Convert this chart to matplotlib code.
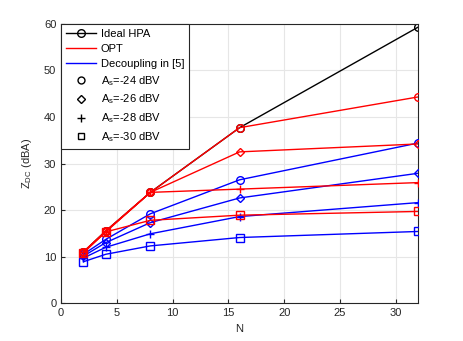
import matplotlib.pyplot as plt
from matplotlib.lines import Line2D
import numpy as np

N = [2, 4, 8, 16, 32]

ideal_hpa = [11.0, 15.5, 23.8, 37.7, 59.3]

# OPT (red), one series per A_s
opt_24 = [11.0, 15.5, 23.8, 37.7, 44.3]
opt_26 = [11.0, 15.4, 23.8, 32.5, 34.2]
opt_28 = [11.0, 15.3, 23.8, 24.5, 25.9]
opt_30 = [10.8, 15.3, 17.8, 18.9, 19.7]

# Decoupling in [5] (blue)
dec_24 = [10.5, 13.7, 19.2, 26.5, 34.4]
dec_26 = [10.1, 13.0, 17.3, 22.6, 27.9]
dec_28 = [9.7, 12.0, 14.9, 18.6, 21.6]
dec_30 = [8.9, 10.5, 12.3, 14.1, 15.4]

as_labels = ["-24", "-26", "-28", "-30"]
markers = ["o", "D", "+", "s"]

plt.rcParams['font.family'] = ['Liberation Sans', 'DejaVu Sans']
plt.rcParams['font.size'] = 8
plt.rcParams['mathtext.fontset'] = 'custom'
plt.rcParams['mathtext.rm'] = 'Liberation Sans'
plt.rcParams['mathtext.it'] = 'Liberation Sans'

fig = plt.figure(figsize=(4.63, 3.41), dpi=100)
ax = fig.add_axes([0.132, 0.111, 0.771, 0.819])

ax.plot(N, ideal_hpa, color='black', marker='o', mfc='none', ms=5.5, lw=1, zorder=2)

sizes = {"o": 5.5, "D": 4.5, "+": 6, "s": 5.5}
for vals, m in zip([dec_24, dec_26, dec_28, dec_30], markers):
    ax.plot(N, vals, color='blue', marker=m, mfc='none', ms=sizes[m],
            mew=1, lw=1, zorder=3)
for vals, m in zip([opt_24, opt_26, opt_28, opt_30], markers):
    ax.plot(N, vals, color='red', marker=m, mfc='none', ms=sizes[m],
            mew=1, lw=1, zorder=4)

ax.set_xlim(0, 32)
ax.set_ylim(0, 60)
ax.set_xticks(np.arange(0, 31, 5))
ax.set_yticks(np.arange(0, 61, 10))
ax.grid(True, color='#e6e6e6', lw=0.8)
ax.set_axisbelow(True)
ax.tick_params(direction='in', length=3, colors='#262626', labelcolor='#262626')
for sp in ax.spines.values():
    sp.set_color('#262626')
    sp.set_linewidth(0.8)

ax.set_xlabel("N", color='#262626')
ax.set_ylabel("Z$_{\\mathrm{DC}}$ (dBA)", color='#262626', labelpad=7)

handles = [
    Line2D([], [], color='black', marker='o', mfc='none', lw=1, ms=5.5),
    Line2D([], [], color='red', lw=1),
    Line2D([], [], color='blue', lw=1),
]
labels = ["Ideal HPA", "OPT", "Decoupling in [5]"]
for m, a in zip(markers, as_labels):
    handles.append(Line2D([], [], color='black', marker=m, mfc='none', lw=0,
                          ms=sizes[m] - 0.5))
    labels.append("A$_\\mathrm{s}$=" + a + " dBV")

leg = ax.legend(handles, labels, loc='upper left', fancybox=False,
                framealpha=1, edgecolor='#262626', borderaxespad=0,
                handlelength=2.7, handletextpad=0.4, labelspacing=0.45,
                borderpad=0.45, fontsize=8)
leg.get_frame().set_linewidth(0.8)

fig.savefig("out.png", dpi=100)
